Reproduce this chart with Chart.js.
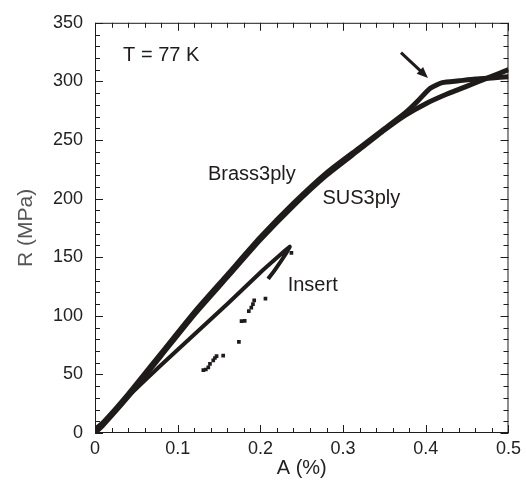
<!DOCTYPE html>
<html>
<head>
<meta charset="utf-8">
<script src="https://cdn.jsdelivr.net/npm/chart.js@4.4.1/dist/chart.umd.min.js"></script>
<style>
  html, body { margin: 0; padding: 0; background: #fff; }
</style>
</head>
<body>
<canvas id="chart" width="526" height="485"></canvas>
<script>
// strain A (%) vs stress R (MPa), T = 77 K
const brassX = [0, 0.01, 0.04, 0.08, 0.12, 0.16, 0.2, 0.24, 0.28, 0.32, 0.35, 0.375, 0.39, 0.405, 0.42, 0.44, 0.46, 0.48, 0.5];
const brassY = [3, 9, 33, 68, 103, 135, 167, 196, 222, 243.5, 259.5, 273, 283, 294, 299, 300.5, 302, 303, 304];

const susX = [0, 0.01, 0.04, 0.08, 0.12, 0.16, 0.2, 0.24, 0.28, 0.32, 0.35, 0.375, 0.4, 0.425, 0.45, 0.475, 0.5];
const susY = [0, 7, 31, 66, 101, 133, 165, 194, 220, 242, 258.5, 271, 281, 289, 296, 303, 310];

const insertX = [0, 0.04, 0.08, 0.12, 0.16, 0.2, 0.2355, 0.229, 0.2174, 0.2093];
const insertY = [0, 31, 58, 84, 110, 137, 159, 151, 139, 131.5];

// scattered unloading points of the insert
const dotX = [0.2375, 0.2061, 0.1925, 0.191, 0.189, 0.186, 0.181, 0.1772, 0.174, 0.155, 0.147, 0.145, 0.143, 0.139, 0.137, 0.134, 0.131];
const dotY = [153.7, 114.7, 113.2, 110, 107, 104, 95.6, 95.4, 77.7, 66, 65.6, 64, 62, 59, 56, 54.2, 53.6];

const xTicks = [0, 0.1, 0.2, 0.3, 0.4, 0.5];
const yTicks = [0, 50, 100, 150, 200, 250, 300, 350];

const ink = '#1f1b1b';
const fontFamily = '"Liberation Sans", Arial, sans-serif';

function toPoints(xs, ys) {
    return xs.map((x, i) => ({ x: x, y: ys[i] }));
}

// labels drawn at data positions
const notes = [
    { text: 'T = 77 K', x: 0.034, y: 322 },
    { text: 'Brass3ply', x: 0.1365, y: 221 },
    { text: 'SUS3ply', x: 0.275, y: 200 },
    { text: 'Insert', x: 0.233, y: 126 }
];
const arrowFrom = { x: 0.370, y: 324.5 };
const arrowTo = { x: 0.4026, y: 303 };

const framePlugin = {
    id: 'frame',
    afterDraw(chart) {
        const ctx = chart.ctx;
        const xs = chart.scales.x, ys = chart.scales.y;
        const a = chart.chartArea;
        ctx.save();
        ctx.strokeStyle = ink;
        ctx.lineWidth = 1;
        ctx.strokeRect(a.left + 0.5, a.top + 0.5, a.right - a.left - 1, a.bottom - a.top - 1);

        // inward ticks on all four sides
        ctx.beginPath();
        for (let i = 0; i <= 25; i++) {
            const px = Math.round(xs.getPixelForValue(i * 0.02)) + 0.5;
            const len = i % 5 === 0 ? 8 : 5;
            ctx.moveTo(px, a.bottom); ctx.lineTo(px, a.bottom - len);
            ctx.moveTo(px, a.top); ctx.lineTo(px, a.top + len);
        }
        for (let i = 0; i <= 35; i++) {
            const py = Math.round(ys.getPixelForValue(i * 10)) + 0.5;
            const len = i % 5 === 0 ? 8 : 5;
            ctx.moveTo(a.left, py); ctx.lineTo(a.left + len, py);
            ctx.moveTo(a.right, py); ctx.lineTo(a.right - len, py);
        }
        ctx.stroke();

        // text notes
        ctx.fillStyle = ink;
        ctx.font = '20px ' + fontFamily;
        ctx.textBaseline = 'middle';
        ctx.textAlign = 'left';
        notes.forEach(n => {
            ctx.fillText(n.text, xs.getPixelForValue(n.x), ys.getPixelForValue(n.y));
        });

        // arrow
        const x1 = xs.getPixelForValue(arrowFrom.x), y1 = ys.getPixelForValue(arrowFrom.y);
        const x2 = xs.getPixelForValue(arrowTo.x), y2 = ys.getPixelForValue(arrowTo.y);
        const ang = Math.atan2(y2 - y1, x2 - x1);
        ctx.lineWidth = 3;
        ctx.beginPath();
        ctx.moveTo(x1, y1);
        ctx.lineTo(x2 - 8 * Math.cos(ang), y2 - 8 * Math.sin(ang));
        ctx.stroke();
        ctx.beginPath();
        ctx.moveTo(x2, y2);
        ctx.lineTo(x2 - 12 * Math.cos(ang - 0.4), y2 - 12 * Math.sin(ang - 0.4));
        ctx.lineTo(x2 - 12 * Math.cos(ang + 0.4), y2 - 12 * Math.sin(ang + 0.4));
        ctx.closePath();
        ctx.fill();
        ctx.restore();
    }
};

const ctx = document.getElementById('chart').getContext('2d');
const chart = new Chart(ctx, {
    type: 'scatter',
    data: {
        datasets: [
            {
                label: 'Brass3ply',
                data: toPoints(brassX, brassY),
                showLine: true,
                borderColor: ink,
                borderWidth: 5,
                pointRadius: 0,
                tension: 0.2
            },
            {
                label: 'SUS3ply',
                data: toPoints(susX, susY),
                showLine: true,
                borderColor: ink,
                borderWidth: 5,
                pointRadius: 0,
                tension: 0.2
            },
            {
                label: 'Insert',
                data: toPoints(insertX, insertY),
                showLine: true,
                borderColor: ink,
                borderWidth: 4,
                pointRadius: 0,
                tension: 0.1
            },
            {
                label: 'Insert points',
                data: toPoints(dotX, dotY),
                showLine: false,
                pointStyle: 'rect',
                pointRadius: 2.6,
                backgroundColor: ink,
                borderColor: ink,
                borderWidth: 0
            }
        ]
    },
    options: {
        responsive: false,
        animation: false,
        layout: { padding: { top: 17, right: 17, left: 0, bottom: 0 } },
        plugins: {
            legend: { display: false },
            tooltip: { enabled: false }
        },
        scales: {
            x: {
                type: 'linear',
                min: 0,
                max: 0.5,
                afterFit(scale) { scale.height = 52; },
                afterBuildTicks(scale) { scale.ticks = xTicks.map(v => ({ value: v })); },
                grid: { display: false, drawTicks: false },
                border: { display: false },
                ticks: {
                    color: '#222',
                    padding: 5,
                    font: { family: fontFamily, size: 18 }
                },
                title: {
                    display: true,
                    text: 'A (%)',
                    color: '#222',
                    padding: { top: 0, bottom: 5 },
                    font: { family: fontFamily, size: 20 }
                }
            },
            y: {
                type: 'linear',
                min: 0,
                max: 350,
                afterFit(scale) { scale.width = 95; },
                afterBuildTicks(scale) { scale.ticks = yTicks.map(v => ({ value: v })); },
                grid: { display: false, drawTicks: false },
                border: { display: false },
                ticks: {
                    color: '#222',
                    padding: 12,
                    font: { family: fontFamily, size: 18 }
                },
                title: {
                    display: true,
                    text: 'R (MPa)',
                    color: '#555',
                    padding: { top: 14, bottom: 0 },
                    font: { family: fontFamily, size: 21 }
                }
            }
        }
    },
    plugins: [framePlugin]
});
</script>
</body>
</html>
